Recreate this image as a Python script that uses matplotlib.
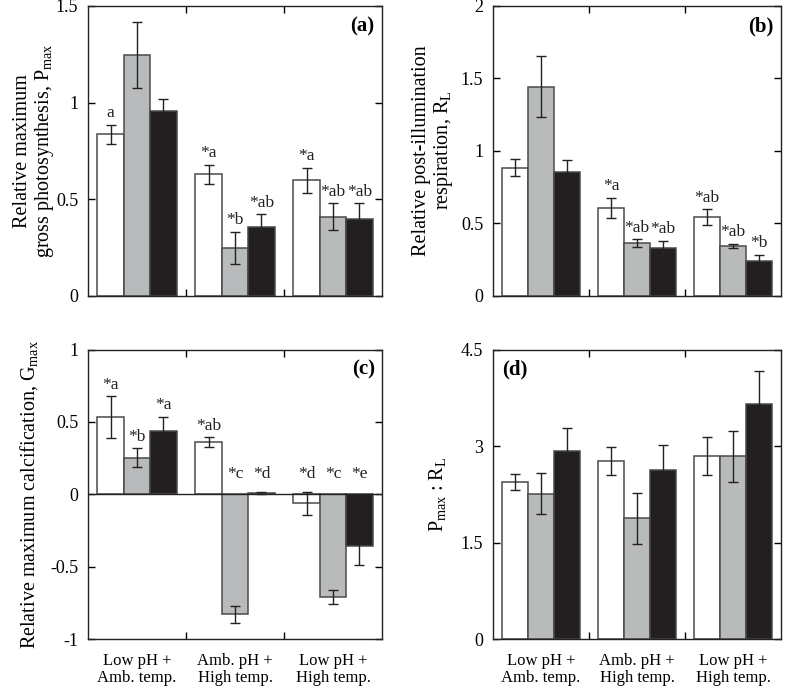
import matplotlib
matplotlib.use("Agg")
import matplotlib.pyplot as plt
import numpy as np

plt.rcParams['font.family'] = ['Liberation Serif', 'DejaVu Serif']
plt.rcParams['mathtext.fontset'] = 'custom'
plt.rcParams['mathtext.rm'] = 'Liberation Serif'
plt.rcParams['mathtext.it'] = 'Liberation Serif:italic'

# ---------------- data ----------------
groups = ["Low pH +\nAmb. temp.", "Amb. pH +\nHigh temp.", "Low pH +\nHigh temp."]

# (a) Relative maximum gross photosynthesis, Pmax
pmax_s1 = [0.835, 0.628, 0.597]
pmax_s1_err = [0.05, 0.05, 0.065]
pmax_s2 = [1.245, 0.246, 0.408]
pmax_s2_err = [0.17, 0.085, 0.07]
pmax_s3 = [0.958, 0.356, 0.397]
pmax_s3_err = [0.06, 0.065, 0.08]
pmax_s1_lab = ["a", "*a", "*a"]
pmax_s2_lab = ["", "*b", "*ab"]
pmax_s3_lab = ["", "*ab", "*ab"]

# (b) Relative post-illumination respiration, RL
rl_s1 = [0.884, 0.607, 0.54]
rl_s1_err = [0.06, 0.07, 0.055]
rl_s2 = [1.443, 0.362, 0.342]
rl_s2_err = [0.21, 0.025, 0.017]
rl_s3 = [0.854, 0.328, 0.236]
rl_s3_err = [0.085, 0.05, 0.045]
rl_s1_lab = ["", "*a", "*ab"]
rl_s2_lab = ["", "*ab", "*ab"]
rl_s3_lab = ["", "*ab", "*b"]

# (c) Relative maximum calcification, Gmax
g_s1 = [0.532, 0.362, -0.06]
g_s1_err = [0.145, 0.032, 0.08]
g_s2 = [0.254, -0.827, -0.707]
g_s2_err = [0.065, 0.058, 0.048]
g_s3 = [0.44, 0.01, -0.359]
g_s3_err = [0.095, 0.01, 0.13]
g_s1_lab = ["*a", "*ab", "*d"]
g_s2_lab = ["*b", "*c", "*c"]
g_s3_lab = ["*a", "*d", "*e"]

# (d) Pmax : RL
ratio_s1 = [2.443, 2.764, 2.853]
ratio_s1_err = [0.125, 0.22, 0.295]
ratio_s2 = [2.263, 1.876, 2.842]
ratio_s2_err = [0.32, 0.39, 0.4]
ratio_s3 = [2.93, 2.63, 3.653]
ratio_s3_err = [0.35, 0.39, 0.52]

colors = ["#ffffff", "#b9babb", "#231f20"]
edge = "#4a4a4a"

W, H = 787, 688
fig = plt.figure(figsize=(W / 100, H / 100), dpi=100)

def px_axes(left, top, right, bottom):
    return fig.add_axes([left / W, (H - bottom) / H, (right - left) / W, (bottom - top) / H])

ax_a = px_axes(88, 6, 382, 295.5)
ax_b = px_axes(493, 6, 781, 295.5)
ax_c = px_axes(88, 349.5, 382, 639.3)
ax_d = px_axes(493, 349.5, 781, 639.3)

x = np.arange(1, 4)
bw = 0.27

def draw(ax, series, errs, labels, ylim, yticks, yticklabels, label_floor=None):
    for i, (vals, err) in enumerate(zip(series, errs)):
        xs = x + (i - 1) * bw
        ax.bar(xs, vals, width=bw, color=colors[i], edgecolor=edge, linewidth=1.1, zorder=2)
        ax.errorbar(xs, vals, yerr=err, fmt='none', ecolor='#222222', elinewidth=1.0,
                    capsize=3.5, capthick=1.0, zorder=3)
        if labels is not None:
            for xx, v, e, t in zip(xs, vals, err, labels[i]):
                if not t:
                    continue
                yy = v + e
                if label_floor is not None:
                    yy = max(yy, label_floor)
                ax.annotate(t, (xx, yy), xytext=(0, 2.5), textcoords='offset points',
                            ha='center', va='bottom', fontsize=12.5, color='#222222')
    ax.set_xlim(0.5, 3.5)
    ax.set_ylim(*ylim)
    ax.set_yticks(yticks)
    ax.set_yticklabels(yticklabels)
    ax.set_xticks(x)
    ax.set_xticks([1.5, 2.5], minor=True)
    ax.tick_params(axis='x', which='major', length=0, pad=10, labelsize=12)
    ax.tick_params(axis='x', which='minor', direction='in', length=5, top=True, bottom=True, width=1)
    ax.tick_params(axis='y', which='major', direction='in', length=5, left=True, right=True,
                   labelsize=13, pad=7, width=1)
    for s in ax.spines.values():
        s.set_linewidth(1.0)
        s.set_color('#222222')

draw(ax_a, [pmax_s1, pmax_s2, pmax_s3], [pmax_s1_err, pmax_s2_err, pmax_s3_err],
     [pmax_s1_lab, pmax_s2_lab, pmax_s3_lab], (0, 1.5), [0, 0.5, 1, 1.5], ["0", "0.5", "1", "1.5"])
draw(ax_b, [rl_s1, rl_s2, rl_s3], [rl_s1_err, rl_s2_err, rl_s3_err],
     [rl_s1_lab, rl_s2_lab, rl_s3_lab], (0, 2), [0, 0.5, 1, 1.5, 2], ["0", "0.5", "1", "1.5", "2"])
draw(ax_c, [g_s1, g_s2, g_s3], [g_s1_err, g_s2_err, g_s3_err],
     [g_s1_lab, g_s2_lab, g_s3_lab], (-1, 1), [-1, -0.5, 0, 0.5, 1], ["-1", "-0.5", "0", "0.5", "1"],
     label_floor=0.06)
draw(ax_d, [ratio_s1, ratio_s2, ratio_s3], [ratio_s1_err, ratio_s2_err, ratio_s3_err],
     None, (0, 4.5), [0, 1.5, 3, 4.5], ["0", "1.5", "3", "4.5"])

ax_c.axhline(0, color='#222222', linewidth=1.0, zorder=4)

for ax in (ax_a, ax_b):
    ax.set_xticklabels([])
for ax in (ax_c, ax_d):
    ax.set_xticklabels(groups, linespacing=1.1)

ylab_fs = 14.5
ax_a.set_ylabel("Relative maximum\ngross photosynthesis, P$_{\\rm max}$", fontsize=ylab_fs, linespacing=1.05)
ax_b.set_ylabel("Relative post-illumination\nrespiration, R$_{\\rm L}$", fontsize=ylab_fs, linespacing=1.05)
ax_c.set_ylabel("Relative maximum calcification, G$_{\\rm max}$", fontsize=ylab_fs)
ax_d.set_ylabel("P$_{\\rm max}$ : R$_{\\rm L}$", fontsize=ylab_fs)
ax_a.yaxis.set_label_coords(-0.108, 0.5)
ax_b.yaxis.set_label_coords(-0.133, 0.5)
ax_c.yaxis.set_label_coords(-0.162, 0.5)
ax_d.yaxis.set_label_coords(-0.155, 0.5)

pl_fs = 15
ax_a.text(0.975, 0.965, "(a)", transform=ax_a.transAxes, ha='right', va='top', fontsize=pl_fs, fontweight='bold')
ax_b.text(0.975, 0.965, "(b)", transform=ax_b.transAxes, ha='right', va='top', fontsize=pl_fs, fontweight='bold')
ax_c.text(0.975, 0.965, "(c)", transform=ax_c.transAxes, ha='right', va='top', fontsize=pl_fs, fontweight='bold')
ax_d.text(0.03, 0.965, "(d)", transform=ax_d.transAxes, ha='left', va='top', fontsize=pl_fs, fontweight='bold')

fig.savefig("out.png", dpi=100)
